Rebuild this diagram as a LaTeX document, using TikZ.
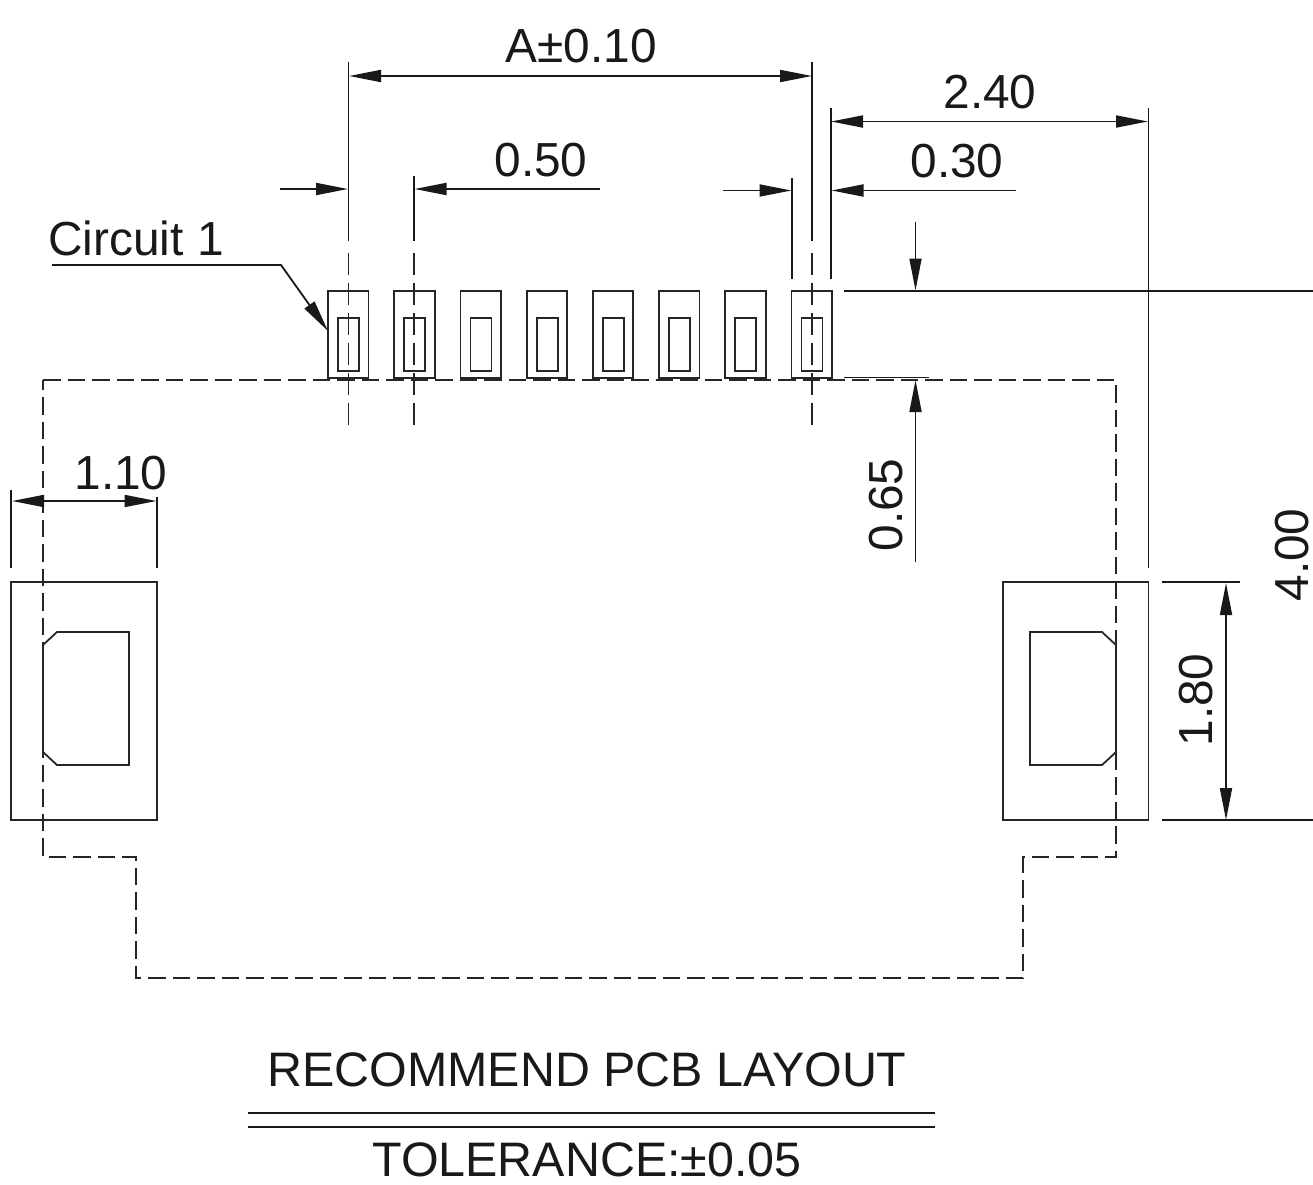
\documentclass[tikz,border=0pt]{standalone}
\usepackage{fontspec}
\setmainfont{Liberation Sans}
\usetikzlibrary{arrows.meta}
\tikzset{
  part/.style={draw=black!85,line width=1.8pt},
  dim/.style={draw=black!90,line width=1.8pt},
  ext/.style={draw=black!90,line width=1.8pt},
  hidden/.style={draw=black!85,line width=1.8pt,dash pattern=on 17.5pt off 7pt},
  center/.style={draw=black!85,line width=1.8pt,dash pattern=on 22pt off 8pt},
  tip/.style={-{Triangle[length=32pt,width=12pt]}},
  tips/.style={{Triangle[length=32pt,width=12pt]}-{Triangle[length=32pt,width=12pt]}},
  lbl/.style={inner sep=0pt,anchor=base,text=black!90,font=\fontsize{47.8}{50}\selectfont},
  vlbl/.style={lbl,rotate=90},
  title/.style={lbl,font=\fontsize{48.4}{50}\selectfont}
}
\begin{document}
\begin{tikzpicture}[x=1pt,y=-1pt]
\useasboundingbox[fill=white] (0,0) rectangle (1313,1184);
% contacts
\foreach \i in {0,...,7}{
  \pgfmathsetmacro{\xa}{328+66.2*\i}
  \draw[part] (\xa,291) rectangle ++(40.5,87);
  \draw[part] (\xa+10,318) rectangle ++(21,53);
}
% side pads
\draw[part] (11,582) rectangle (157,820);
\draw[part] (1003,582) rectangle (1148.5,820);
\draw[part] (43,645) -- (57,632) -- (129,632) -- (129,765) -- (57,765) -- (43,752) -- cycle;
\draw[part] (1030,632) -- (1102,632) -- (1116,645) -- (1116,752) -- (1102,765) -- (1030,765) -- cycle;
% outline
\draw[hidden] (43,380) -- (1116,380) -- (1116,857) -- (1023,857) -- (1023,978) -- (136,978) -- (136,857) -- (43,857) -- cycle;
% centre lines
\foreach \x/\t in {348.5/62,414/176,812/62}{
  \draw[ext] (\x,\t) -- (\x,241);
  \draw[center] (\x,253) -- (\x,425);
}
% extension lines
\draw[ext] (792,178) -- (792,279);
\draw[ext] (831,108) -- (831,279);
\draw[ext] (1148.5,108) -- (1148.5,568);
\draw[ext] (11,490) -- (11,568);
\draw[ext] (157,497) -- (157,568);
\draw[ext] (844,291) -- (1313,291);
\draw[ext] (844,377.5) -- (929,377.5);
\draw[ext] (1162,582) -- (1240,582);
\draw[ext] (1162,820) -- (1313,820);
% dimensions
\draw[dim,tips] (349,76) -- (812,76);
\draw[dim,tips] (831,121.5) -- (1148,121.5);
\draw[dim,tip] (280,189) -- (348,189);
\draw[dim,tip] (600,189) -- (414.5,189);
\draw[dim,tip] (723,190.5) -- (791.5,190.5);
\draw[dim,tip] (1016,190.5) -- (831.5,190.5);
\draw[dim,tip] (915.5,222) -- (915.5,290.5);
\draw[dim,tip] (915.5,562) -- (915.5,380);
\draw[dim,tips] (1226,583) -- (1226,820);
\draw[dim,tips] (12,501) -- (156.5,501);
% leader
\draw[dim,tip] (52,265) -- (281,265) -- (328,331);
% title rules
\draw[ext] (248,1113) -- (935,1113);
\draw[ext] (248,1127) -- (935,1127);
% labels
\node[lbl] (a) at (581,62) {A±0.10};
\node[lbl] (d240) at (990,108) {2.40};
\node[lbl] (d050) at (541,176) {0.50};
\node[lbl] (d030) at (957,177) {0.30};
\node[lbl] (circ) at (136,255) {Circuit 1};
\node[lbl] (d110) at (121,489) {1.10};
\node[vlbl] (d065) at (902,505) {0.65};
\node[vlbl] (d180) at (1212,700) {1.80};
\node[vlbl] (d400) at (1308,555) {4.00};
\node[title] (t1) at (587,1086) {RECOMMEND PCB LAYOUT};
\node[title] (t2) at (587,1176) {TOLERANCE:±0.05};
\end{tikzpicture}
\end{document}
